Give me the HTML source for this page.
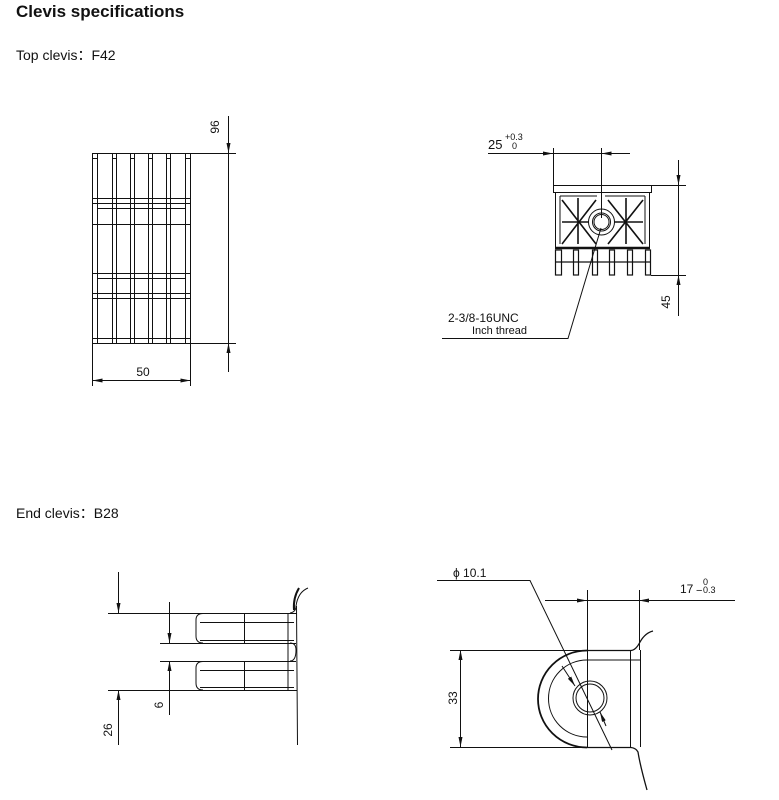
<!DOCTYPE html>
<html><head><meta charset="utf-8"><style>
html,body{margin:0;padding:0;background:#fff;width:779px;height:800px;overflow:hidden}
svg{display:block}
text{font-family:"Liberation Sans",Arial,sans-serif;fill:#111}
</style></head><body>
<svg width="779" height="800" viewBox="0 0 779 800" xmlns="http://www.w3.org/2000/svg">
<defs>
<marker id="a" viewBox="0 0 10 4" refX="10" refY="2" markerWidth="10" markerHeight="4" orient="auto-start-reverse" markerUnits="userSpaceOnUse"><path d="M0,0 L10,2 L0,4z" fill="#111"/></marker>
</defs>
<text x="16" y="17" font-size="17" font-weight="bold">Clevis specifications</text>
<text x="16" y="60" font-size="14">Top clevis：F42</text>
<text x="16" y="518" font-size="14">End clevis：B28</text>

<g stroke="#111" stroke-width="1" fill="none">
<!-- Top-left grid -->
<rect x="92.5" y="153.5" width="98" height="190"/>
<g>
<rect x="92.5" y="153.5" width="5" height="190"/>
<rect x="112.5" y="153.5" width="4" height="190"/>
<rect x="130.5" y="153.5" width="4" height="190"/>
<rect x="148.5" y="153.5" width="4" height="190"/>
<rect x="166.5" y="153.5" width="4" height="190"/>
<rect x="185.5" y="153.5" width="5" height="190"/>
</g>
<path d="M92 198.5H190M92 203.5H190M97 208.5H186M92 224.5H190M92 273.5H190M97 278.5H186M92 293.5H190M92 298.5H190M92 338.5H190"/>
<path d="M92 158.5H97M112 158.5H116M130 158.5H134M148 158.5H152M166 158.5H170M185 158.5H190"/>
<path d="M190 153.5H236M190 343.5H236"/>
<path d="M228.5 116V153" marker-end="url(#a)"/>
<path d="M228.5 343V372" marker-start="url(#a)"/>
<line x1="228.5" y1="153" x2="228.5" y2="343"/>
<path d="M92.5 343V386M190.5 343V386"/>
<line x1="92.5" y1="380.5" x2="190.5" y2="380.5" marker-start="url(#a)" marker-end="url(#a)"/>

<!-- Top-right -->
<rect x="553.5" y="185.5" width="98" height="7"/>
<rect x="555.5" y="192.5" width="94" height="55"/>
<line x1="555" y1="248" x2="650" y2="248" stroke-width="2.5"/>
<path d="M560 196H597M605 196H645M560 196V244M645 196V244"/>
<g stroke-width="1.6">
<path d="M562 200L596 244M562 244L596 200M578 198V244"/>
<path d="M608 200L643 244M608 244L643 200M626 198V244"/>
<path d="M562 222H596M608 222H643"/>
</g>
<circle cx="601.5" cy="222" r="13" fill="#fff"/>
<circle cx="601.5" cy="222" r="9"/>
<circle cx="601.5" cy="222" r="7.5"/>
<g stroke-width="1.2">
<rect x="555.5" y="250" width="6" height="25"/>
<rect x="573.5" y="250" width="5" height="25"/>
<rect x="592.5" y="250" width="5" height="25"/>
<rect x="609.5" y="250" width="5" height="25"/>
<rect x="627.5" y="250" width="5" height="25"/>
<rect x="645.5" y="250" width="5" height="25"/>
<path d="M555 262H650"/>
</g>
<path d="M553.5 148V185M601.5 148V218"/>
<line x1="488" y1="153.5" x2="553" y2="153.5" marker-end="url(#a)"/>
<line x1="553" y1="153.5" x2="601" y2="153.5"/>
<line x1="630" y1="153.5" x2="601.5" y2="153.5" marker-end="url(#a)"/>
<path d="M651 185.5H686M651 275.5H686"/>
<path d="M678.5 160V185" marker-end="url(#a)"/>
<path d="M678.5 275V316" marker-start="url(#a)"/>
<line x1="678.5" y1="185" x2="678.5" y2="275"/>
<path d="M601 228L568 338.5H442"/>

<!-- Bottom-left -->
<path d="M118.5 572V613" marker-end="url(#a)"/>
<path d="M118.5 690V745" marker-start="url(#a)"/>
<path d="M108 613.5H297M108 690.5H297"/>
<path d="M169.5 602V643" marker-end="url(#a)"/>
<path d="M169.5 661V715" marker-start="url(#a)"/>
<path d="M160 643.5H296M160 661.5H296"/>
<path d="M203 613.5Q196 613.5 196 620V636Q196 643 203 643"/>
<path d="M203 661.5Q196 661.5 196 668V683Q196 690 203 690"/>
<path d="M200 622.5H294M200 640.5H294M200 670.5H294M200 687.5H294M244.5 613V643M244.5 661V690"/>
<path d="M288 613V690"/>
<path d="M290 613Q296 612 296 606Q298 592 308 588M296.5 606L297.5 745"/>
<path d="M299 588Q293 598 294 610" stroke-width="2"/>
<path d="M290 643Q296 643 296 650Q296 661 290 661"/>

<!-- Bottom-right -->
<path d="M437 580.5H530L612 750"/>
<path d="M562 666L575 686" marker-end="url(#a)"/>
<path d="M600 712L606 726" marker-start="url(#a)"/>
<path d="M587.5 590V748M639.5 590V650"/>
<path d="M545 600.5H587" marker-end="url(#a)"/>
<line x1="587" y1="600.5" x2="639" y2="600.5"/>
<path d="M735 600.5H639" marker-end="url(#a)"/>
<path d="M587 650.5H631Q636 650 640 642Q645 633 653 631" stroke-width="1.3"/>
<path d="M587 650.5A49 48.5 0 0 0 587 747.5" stroke-width="1.8"/>
<path d="M587 660A38 38 0 0 0 587 737"/>
<path d="M587 660H640M630.5 650V747M640.5 650V747"/>
<path d="M587 747.5H631Q636 748 638 752Q640 765 647 790" stroke-width="1.3"/>
<circle cx="590" cy="698" r="17"/>
<circle cx="590" cy="698" r="14"/>
<path d="M450 650.5H587M450 747.5H587"/>
<line x1="460.5" y1="650" x2="460.5" y2="747" marker-start="url(#a)" marker-end="url(#a)"/>
</g>

<text x="143" y="376" font-size="12" text-anchor="middle">50</text>
<text transform="translate(219,127) rotate(-90)" font-size="12" text-anchor="middle">96</text>
<text x="488" y="149" font-size="13">25</text>
<text x="505" y="140" font-size="9">+0.3</text>
<text x="512" y="149" font-size="9">0</text>
<text transform="translate(670,302) rotate(-90)" font-size="12" text-anchor="middle">45</text>
<text x="448" y="322" font-size="12">2-3/8-16UNC</text>
<text x="472" y="334" font-size="11">Inch thread</text>
<text transform="translate(112,730) rotate(-90)" font-size="12" text-anchor="middle">26</text>
<text transform="translate(163,705) rotate(-90)" font-size="12" text-anchor="middle">6</text>
<text x="453" y="577" font-size="12">ϕ 10.1</text>
<text x="680" y="593" font-size="12">17</text>
<text x="696" y="594" font-size="11">−</text>
<text x="703" y="585" font-size="9">0</text>
<text x="703" y="593" font-size="9">0.3</text>
<text transform="translate(457,698) rotate(-90)" font-size="12" text-anchor="middle">33</text>
</svg>
</body></html>
